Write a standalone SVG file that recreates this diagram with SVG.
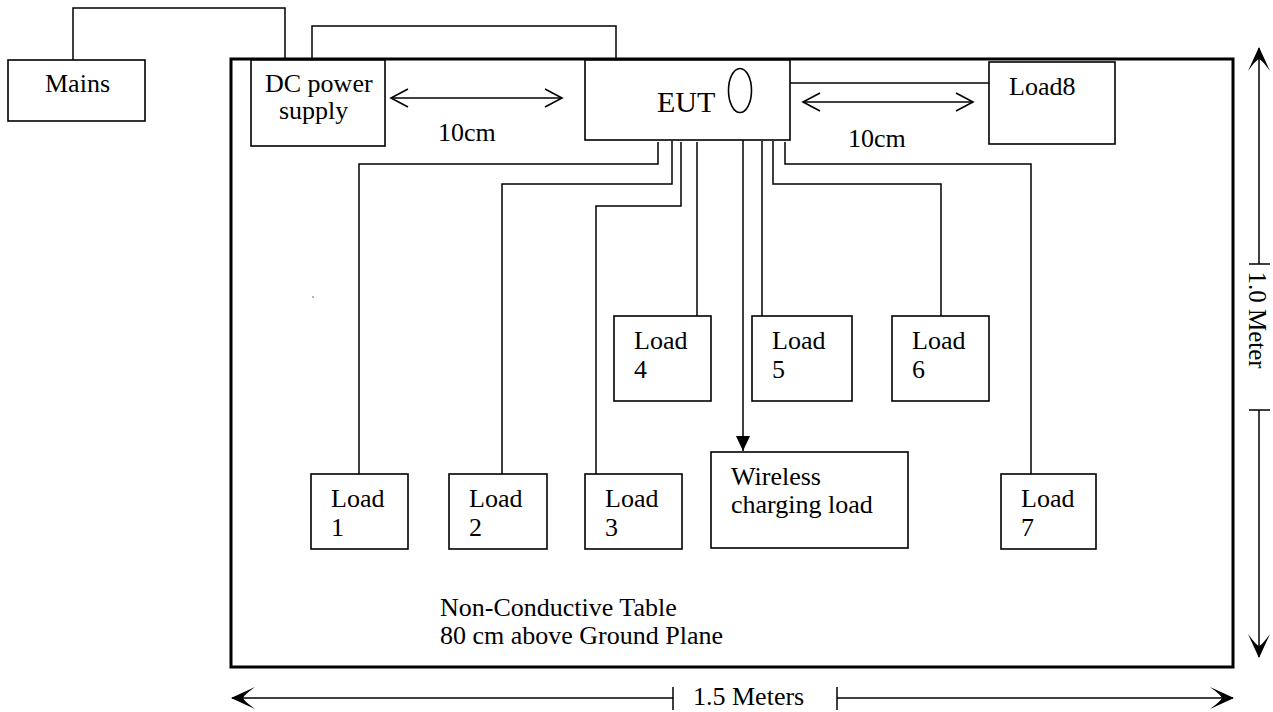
<svg xmlns="http://www.w3.org/2000/svg" width="1273" height="712" viewBox="0 0 1273 712">
<style>
.box{fill:#fff;stroke:#000;stroke-width:1.6}
.wire{fill:none;stroke:#000;stroke-width:1.5}
.t{font-family:"Liberation Serif","Times New Roman",serif;font-size:26px;fill:#000}
.eut{font-family:"Liberation Serif","Times New Roman",serif;font-size:30px;fill:#000}
</style>
<defs>
<marker id="open" markerUnits="userSpaceOnUse" viewBox="-20 -12 24 24" refX="0" refY="0" markerWidth="24" markerHeight="24" orient="auto-start-reverse">
<path d="M-17,-9 L0,0 L-17,9" fill="none" stroke="#000" stroke-width="1.6"/>
</marker>
<marker id="barb" markerUnits="userSpaceOnUse" viewBox="-26 -13 28 26" refX="0" refY="0" markerWidth="28" markerHeight="26" orient="auto-start-reverse">
<path d="M1,0 L-23,-11 Q-12,-3 -11,0 Q-12,3 -23,11 Z" fill="#000"/>
</marker>
<marker id="tri" markerUnits="userSpaceOnUse" viewBox="-16 -9 18 18" refX="0" refY="0" markerWidth="18" markerHeight="18" orient="auto">
<path d="M0,0 L-15,-7 L-15,7 Z" fill="#000"/>
</marker>
</defs>

<g id="table">
<rect x="231" y="59" width="1002" height="608" fill="none" stroke="#000" stroke-width="3"/>
<text class="t" x="440" y="616">Non-Conductive Table</text>
<text class="t" x="440" y="644">80 cm above Ground Plane</text>
<circle cx="313" cy="297" r="0.8" fill="#555"/>
</g>

<g id="connectors">
<path class="wire" d="M73,60 V8 H285 V59"/>
<path class="wire" d="M312,59 V26 H616 V60"/>
<path class="wire" d="M790,83 H989"/>
<path class="wire" d="M658,142 V164 H359 V474"/>
<path class="wire" d="M672,141 V184 H502 V474"/>
<path class="wire" d="M681,142 V206 H596 V474"/>
<path class="wire" d="M697,142 V316"/>
<path class="wire" d="M762,141 V316"/>
<path class="wire" d="M773,141 V184 H941 V316"/>
<path class="wire" d="M785,142 V164 H1031 V474"/>
<path class="wire" d="M743,90 V451" marker-end="url(#tri)"/>
<path class="wire" d="M391,98 H562" marker-start="url(#open)" marker-end="url(#open)"/>
<path class="wire" d="M803,102 H973" marker-start="url(#open)" marker-end="url(#open)"/>
</g>

<g id="mains">
<rect class="box" x="8" y="60" width="137" height="61"/>
<text class="t" x="45" y="92">Mains</text>
</g>

<g id="dc-power-supply">
<rect class="box" x="251" y="60" width="134" height="86"/>
<text class="t" x="265" y="92">DC power</text>
<text class="t" x="279" y="119">supply</text>
</g>

<g id="eut">
<rect class="box" x="585" y="60" width="205" height="80"/>
<text class="eut" x="657" y="112">EUT</text>
<ellipse cx="740" cy="90.5" rx="11.5" ry="22" fill="none" stroke="#000" stroke-width="1.6"/>
</g>

<g id="label-10cm-left"><text class="t" x="438" y="141">10cm</text></g>
<g id="label-10cm-right"><text class="t" x="848" y="147">10cm</text></g>

<g id="load8">
<rect class="box" x="989" y="62" width="126" height="82"/>
<text class="t" x="1009" y="95">Load8</text>
</g>

<g id="load4">
<rect class="box" x="614" y="316" width="97" height="85"/>
<text class="t" x="634" y="349">Load</text>
<text class="t" x="634" y="378">4</text>
</g>
<g id="load5">
<rect class="box" x="752" y="316" width="100" height="85"/>
<text class="t" x="772" y="349">Load</text>
<text class="t" x="772" y="378">5</text>
</g>
<g id="load6">
<rect class="box" x="892" y="316" width="97" height="85"/>
<text class="t" x="912" y="349">Load</text>
<text class="t" x="912" y="378">6</text>
</g>

<g id="load1">
<rect class="box" x="311" y="474" width="97" height="75"/>
<text class="t" x="331" y="507">Load</text>
<text class="t" x="331" y="536">1</text>
</g>
<g id="load2">
<rect class="box" x="449" y="474" width="98" height="75"/>
<text class="t" x="469" y="507">Load</text>
<text class="t" x="469" y="536">2</text>
</g>
<g id="load3">
<rect class="box" x="585" y="474" width="97" height="75"/>
<text class="t" x="605" y="507">Load</text>
<text class="t" x="605" y="536">3</text>
</g>
<g id="wireless-charging-load">
<rect class="box" x="711" y="452" width="197" height="96"/>
<text class="t" x="731" y="485">Wireless</text>
<text class="t" x="731" y="513">charging load</text>
</g>
<g id="load7">
<rect class="box" x="1001" y="474" width="95" height="75"/>
<text class="t" x="1021" y="507">Load</text>
<text class="t" x="1021" y="536">7</text>
</g>

<g id="dimension-height">
<path class="wire" d="M1259,264 V48" marker-end="url(#barb)"/>
<path class="wire" d="M1249,264 H1270"/>
<path class="wire" d="M1249,410 H1270"/>
<path class="wire" d="M1259,410 V657" marker-end="url(#barb)"/>
<text class="t" x="0" y="0" transform="translate(1249,320) rotate(90)" text-anchor="middle" style="font-size:25px">1.0 Meter</text>
</g>

<g id="dimension-width">
<path class="wire" d="M673,698 H232" marker-end="url(#barb)"/>
<path class="wire" d="M673,687 V710"/>
<path class="wire" d="M837,687 V710"/>
<path class="wire" d="M837,698 H1233" marker-end="url(#barb)"/>
<text class="t" x="693" y="705">1.5 Meters</text>
</g>
</svg>
